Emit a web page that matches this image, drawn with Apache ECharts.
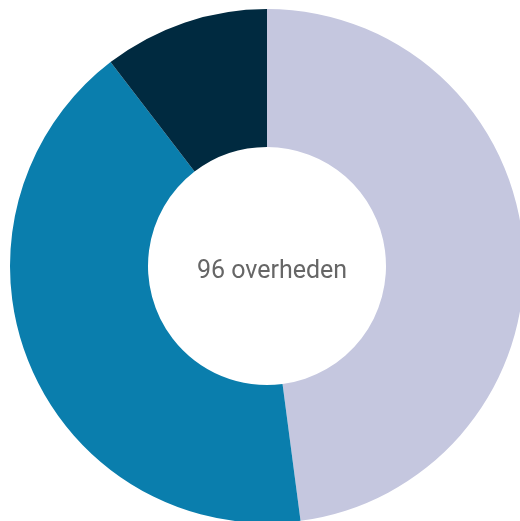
<!DOCTYPE html>
<html><head><meta charset="utf-8">
<script src="https://cdn.jsdelivr.net/npm/echarts@6/dist/echarts.min.js"></script>
<style>html,body{margin:0;padding:0;background:#fff}#c{width:520px;height:521px}</style>
</head><body><div id="c"></div>
<script>
const categories = ['Categorie A', 'Categorie B', 'Categorie C'];
const values = [46, 40, 10];
const colors = ['#c5c7df', '#0a7ead', '#002a40'];
const centerLabel = '96 overheden';

const chart = echarts.init(document.getElementById('c'));
chart.setOption({
  animation: false,
  title: {
    text: centerLabel, left: 267, top: 267, textAlign: 'center', textVerticalAlign: 'middle',
    textStyle: { color: '#666', fontSize: 25, fontWeight: 'normal', fontFamily: 'Roboto' }
  },
  series: [{
    type: 'pie',
    center: [267, 266],
    radius: [119, 257],
    startAngle: 90,
    clockwise: true,
    label: { show: false },
    labelLine: { show: false },
    itemStyle: { borderWidth: 0 },
    data: categories.map((c, i) => ({ name: c, value: values[i], itemStyle: { color: colors[i] } }))
  }]
});
</script></body></html>
